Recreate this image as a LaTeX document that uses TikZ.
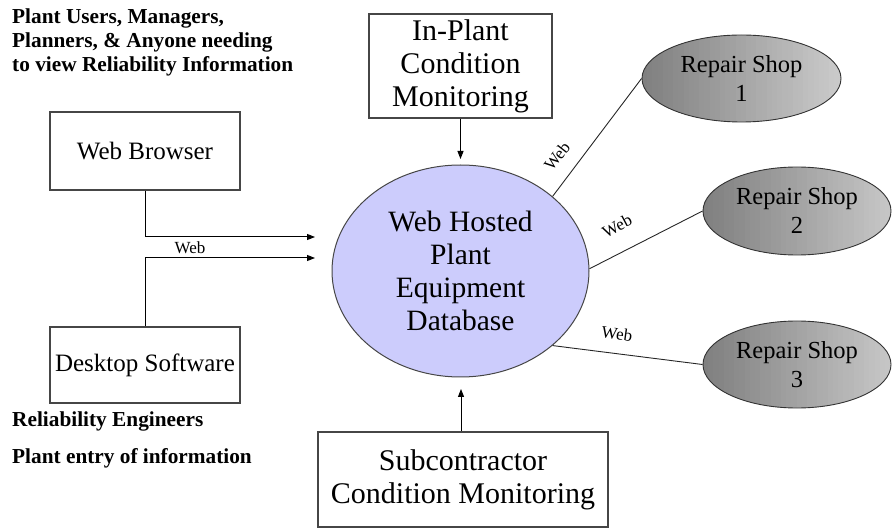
\documentclass[tikz,border=0pt]{standalone}
\usepackage{fontspec}
\setmainfont{Liberation Serif}
\usetikzlibrary{shapes.geometric,arrows.meta}

\definecolor{dbfill}{RGB}{204,204,252}
\definecolor{shopdark}{RGB}{128,128,128}
\definecolor{shoplight}{RGB}{206,206,206}
\definecolor{boxline}{RGB}{70,70,70}

\tikzset{
  fs/.style 2 args={font=\fontsize{#1}{#2}\selectfont},
  boxnode/.style={draw=boxline, line width=1.1pt, fill=white, inner sep=0pt, align=center},
  dbnode/.style={ellipse, draw=boxline, line width=1pt, fill=dbfill, inner sep=0pt,
    align=center, fs={29.5}{33}},
  % left-to-right grey gradient built from thin stripes
  shopnode/.style={ellipse, draw=black!80, line width=0.9pt, inner sep=0pt, align=center,
    fill=shoplight, fs={24.5}{29},
    path picture={
      \foreach \i in {0,...,39}{
        \pgfmathtruncatemacro\pc{100*\i/39}
        \fill[shoplight!\pc!shopdark]
          ([xshift=\i*5.2pt]path picture bounding box.south west) rectangle
          ([xshift=\i*5.2pt+5.8pt]path picture bounding box.north west);
      }
    }},
  feed/.style={line width=1pt, -{Triangle[length=8pt,width=6pt]}},
  link/.style={line width=0.9pt, draw=black!85},
  weblabel/.style={inner sep=0pt, fs={17}{19}},
  note/.style={inner sep=0pt, align=left, font=\bfseries\fontsize{21.3}{24}\selectfont}
}

\begin{document}
\begin{tikzpicture}[x=1pt,y=-1pt]
  \useasboundingbox (0,0) rectangle (892,529);

  % user groups
  \node[note, anchor=north west] (users) at (12,9)
    {Plant Users, Managers,\\Planners, \& Anyone needing\\to view Reliability Information};
  \node[note, anchor=west] (eng) at (12,421) {Reliability Engineers};
  \node[note, anchor=west] (entry) at (12,458) {Plant entry of information};

  % client boxes
  \node[boxnode, minimum width=190pt, minimum height=78pt, fs={25}{29}] (wb) at (145,151) {Web Browser};
  \node[boxnode, minimum width=190pt, minimum height=76pt, fs={25}{29}] (ds) at (145,365) {Desktop Software};

  % condition monitoring sources
  \node[boxnode, minimum width=183pt, minimum height=104pt, fs={30}{33}] (ip) at (460.5,66)
    {In-Plant\\Condition\\Monitoring};
  \node[boxnode, minimum width=290pt, minimum height=95pt, fs={30}{33}] (sc) at (463,479.5)
    {Subcontractor\\Condition Monitoring};

  % central database
  \node[dbnode, minimum width=257pt, minimum height=212pt] (db) at (460.5,271)
    {Web Hosted\\Plant\\Equipment\\Database};

  % repair shops
  \node[shopnode, minimum width=199pt, minimum height=87pt] (rs1) at (741.5,78.5) {Repair Shop\\1};
  \node[shopnode, minimum width=188pt, minimum height=88pt] (rs2) at (797,211) {Repair Shop\\2};
  \node[shopnode, minimum width=188pt, minimum height=87pt] (rs3) at (797,364.5) {Repair Shop\\3};

  % arrow end points in front of the database
  \coordinate (inA) at (315,237);
  \coordinate (inB) at (315,258);
  \coordinate (inTop) at (460.5,159);
  \coordinate (inBot) at (461,389);

  \draw[feed] (wb.south) |- (inA);
  \draw[feed] (ds.north) |- (inB);
  \node[weblabel] (webL) at (190,248) {Web};

  \draw[feed] (ip.south) -- (inTop);
  \draw[feed] (sc.north -| inBot) -- (inBot);

  % web links to the repair shops
  \draw[link] (db.39) -- (rs1.west);
  \draw[link] (db.1) -- (rs2.west);
  \draw[link] (db.-39) -- (rs3.west);
  \node[weblabel, rotate=52] (web1) at (557,156) {Web};
  \node[weblabel, rotate=28] (web2) at (617,226) {Web};
  \node[weblabel, rotate=-8] (web3) at (617,334) {Web};
\end{tikzpicture}
\end{document}
